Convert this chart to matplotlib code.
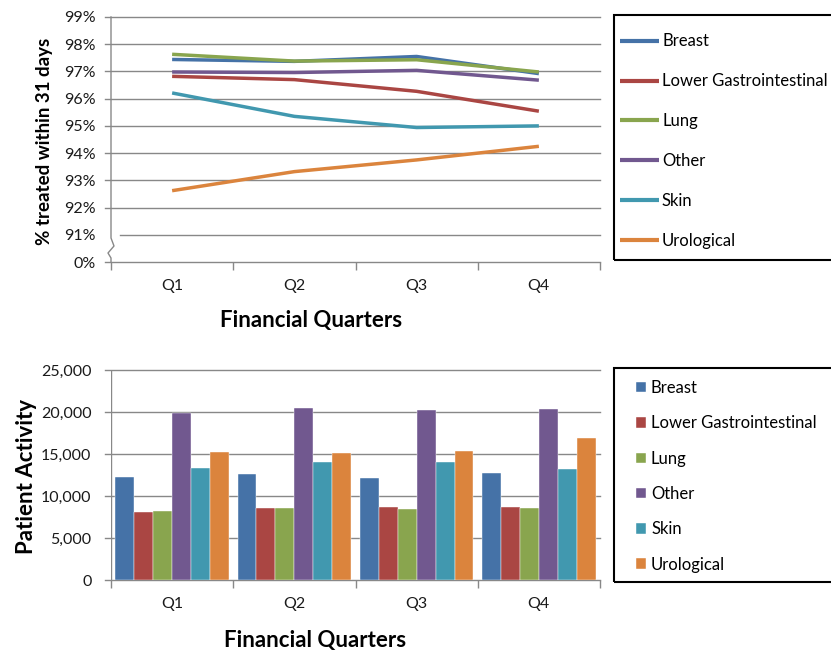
import matplotlib
matplotlib.use("Agg")
import matplotlib.pyplot as plt
from matplotlib.patches import Rectangle
from matplotlib.lines import Line2D
import numpy as np

plt.rcParams['font.family'] = ['Lato', 'DejaVu Sans']

quarters = ["Q1", "Q2", "Q3", "Q4"]
series = ["Breast", "Lower Gastrointestinal", "Lung", "Other", "Skin", "Urological"]
colors = ["#4572A7", "#AA4643", "#89A54E", "#71588F", "#4198AF", "#DB843D"]

# % treated within 31 days
pct_breast = [97.44, 97.37, 97.55, 96.92]
pct_lgi = [96.82, 96.70, 96.27, 95.54]
pct_lung = [97.63, 97.38, 97.43, 96.98]
pct_other = [96.98, 96.96, 97.04, 96.68]
pct_skin = [96.21, 95.35, 94.94, 95.00]
pct_uro = [92.62, 93.32, 93.75, 94.25]

# Patient activity
act_breast = [12220, 12580, 12100, 12780]
act_lgi = [8060, 8610, 8690, 8690]
act_lung = [8210, 8610, 8490, 8570]
act_other = [19920, 20480, 20240, 20360]
act_skin = [13290, 14050, 14050, 13210]
act_uro = [15240, 15120, 15320, 16940]

pct_yticks = [90, 91, 92, 93, 94, 95, 96, 97, 98, 99]
pct_ylabels = ["0%", "91%", "92%", "93%", "94%", "95%", "96%", "97%", "98%", "99%"]
act_yticks = [0, 5000, 10000, 15000, 20000, 25000]
act_ylabels = ["0", "5,000", "10,000", "15,000", "20,000", "25,000"]

W, H = 831, 655
fig = plt.figure(figsize=(W / 100, H / 100), dpi=100)

def fbox(x0, y0, x1, y1):
    return [x0 / W, 1 - y1 / H, (x1 - x0) / W, (y1 - y0) / H]

GRID = "#888888"
TICKFS = 11.5
x = np.arange(len(quarters))

def style_axis(ax, yticks, ylabels, ypad, skip_grid_tick=None):
    for s in ["top", "right", "left", "bottom"]:
        ax.spines[s].set_visible(False)
    ax.set_xlim(-0.5, len(quarters) - 0.5)
    ax.set_yticks(yticks)
    ax.set_yticklabels(ylabels, fontsize=TICKFS, color="#1a1a1a")
    ax.tick_params(axis='y', length=0, pad=ypad)
    for t in yticks:
        xmin = -0.012
        if skip_grid_tick is not None and t == skip_grid_tick:
            xmin = 0.018
        ax.axhline(t, xmin=xmin, xmax=1, color=GRID, lw=1.0, zorder=0, clip_on=False)
    ax.set_xticks(x)
    ax.set_xticklabels(quarters, fontsize=TICKFS, color="#1a1a1a")
    ax.tick_params(axis='x', which='major', length=0, pad=12)
    ax.set_xticks(np.arange(len(quarters) + 1) - 0.5, minor=True)
    ax.tick_params(axis='x', which='minor', length=6, color=GRID, width=1.0, direction='out')

# ---------- top line chart ----------
ax1 = fig.add_axes(fbox(111, 17, 600, 262))
ax1.set_ylim(90, 99)
style_axis(ax1, pct_yticks, pct_ylabels, ypad=11, skip_grid_tick=91)
pct_data = [pct_breast, pct_lgi, pct_lung, pct_other, pct_skin, pct_uro]
for name, vals, c in zip(series, pct_data, colors):
    ax1.plot(x, vals, color=c, lw=2.5, solid_capstyle='butt', label=name)
# left axis with break
def ax_frac(px, py):
    return (px - 111) / 489, (262 - py) / 245
pts = [(111, 17), (111, 238), (114, 246), (108, 253), (111, 258), (111, 262)]
fx, fy = zip(*[ax_frac(a, b) for a, b in pts])
ax1.add_line(Line2D(fx, fy, transform=ax1.transAxes, color=GRID, lw=1.0, clip_on=False))
ax1.set_ylabel("% treated within 31 days", fontsize=13.5, fontweight='bold')
ax1.yaxis.set_label_coords(-0.137, 0.494)
ax1.yaxis.label.set_va('center')
ax1.set_xlabel("Financial Quarters", fontsize=16, fontweight='bold')
ax1.xaxis.set_label_coords(0.409, -0.237)
ax1.xaxis.label.set_va('center')

# ---------- bottom bar chart ----------
ax2 = fig.add_axes(fbox(111, 370, 600, 580))
ax2.set_ylim(0, 25000)
style_axis(ax2, act_yticks, act_ylabels, ypad=14)
ax2.axvline(-0.5, color=GRID, lw=1.0)
act_data = [act_breast, act_lgi, act_lung, act_other, act_skin, act_uro]
bw = 0.155
for i, (name, vals, c) in enumerate(zip(series, act_data, colors)):
    ax2.bar(x + (i - 2.5) * bw, vals, width=bw, color=c, label=name, zorder=2,
            edgecolor='white', linewidth=0.3)
ax2.set_ylabel("Patient Activity", fontsize=16, fontweight='bold')
ax2.yaxis.set_label_coords(-0.172, 0.495)
ax2.yaxis.label.set_va('center')
ax2.set_xlabel("Financial Quarters", fontsize=16, fontweight='bold')
ax2.xaxis.set_label_coords(0.417, -0.286)
ax2.xaxis.label.set_va('center')

# ---------- legends ----------
for (y0, y1) in [(15, 260), (368, 582)]:
    fig.patches.append(Rectangle((614 / W, 1 - y1 / H), (840 - 614) / W, (y1 - y0) / H,
                                 transform=fig.transFigure, fill=False,
                                 edgecolor='black', lw=1.5))

h1, l1 = ax1.get_legend_handles_labels()
leg1 = fig.legend(h1, l1, loc='upper left', bbox_to_anchor=(620 / W, 1 - 33.5 / H),
                  frameon=False, fontsize=12, handlelength=2.34, handletextpad=0.18,
                  labelspacing=1.43, borderpad=0, borderaxespad=0)
for ln in leg1.get_lines():
    ln.set_linewidth(3.0)
h2, l2 = ax2.get_legend_handles_labels()
fig.legend(h2, l2, loc='upper left', bbox_to_anchor=(636 / W, 1 - 380 / H),
           frameon=False, fontsize=12, handlelength=0.6, handleheight=0.6,
           handletextpad=0.3, labelspacing=1.16, borderpad=0, borderaxespad=0)

fig.savefig("out.png", dpi=100)
